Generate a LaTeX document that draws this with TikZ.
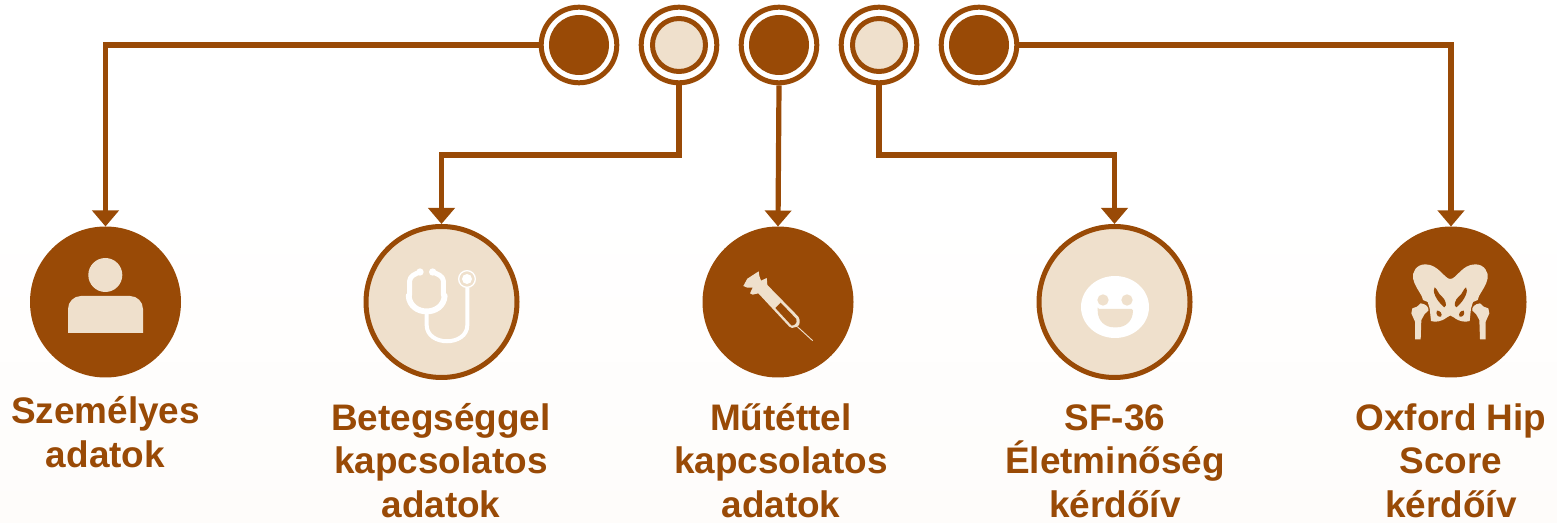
\documentclass[tikz,border=0pt]{standalone}
\usepackage{fontspec}
\setmainfont{Liberation Sans}
\usetikzlibrary{arrows.meta}
\definecolor{brn}{HTML}{994A06}
\definecolor{bge}{HTML}{EFE0CC}
\definecolor{bgbot}{HTML}{FEFCFA}
\tikzset{
  x=.75pt,y=-.75pt,
  topring/.style={circle,draw=brn,fill=white,line width=3.75pt,minimum size=56.7pt,inner sep=0pt,outer sep=.5\pgflinewidth},
  topdark/.style={circle,fill=brn,minimum size=45pt,inner sep=0pt,outer sep=0pt},
  toplight/.style={circle,draw=brn,fill=bge,line width=3.75pt,minimum size=39.75pt,inner sep=0pt},
  bigdark/.style={circle,fill=brn,minimum size=113.25pt,inner sep=0pt,outer sep=0pt},
  biglight/.style={circle,draw=brn,fill=bge,line width=3.75pt,minimum size=113.25pt,inner sep=0pt,outer sep=.5\pgflinewidth},
  conn/.style={draw=brn,line width=3.9pt,-{Triangle[width=19.5pt,length=12pt]}},
  stub/.style={draw=brn,line width=3.9pt},
  lbl/.style={font=\fontsize{27.7}{33}\selectfont\bfseries,text=brn,align=center,anchor=base,inner sep=0pt},
  zoomed/.style={shift={#1},x=.25pt,y=-.25pt},
}
\begin{document}
\begin{tikzpicture}
\useasboundingbox (0,0) rectangle (1557,523);
\shade[top color=white,bottom color=bgbot] (0,200) rectangle (1557,523);
% top circles
\node[topring] (t1) at (579,45) {};
\node[topring] (t2) at (679,45) {};
\node[topring] (t3) at (779,45) {};
\node[topring] (t4) at (879,45) {};
\node[topring] (t5) at (979,45) {};
\node[topdark] (d1) at (t1) {};
\node[toplight] (l2) at (t2) {};
\node[topdark] (d3) at (t3) {};
\node[toplight] (l4) at (t4) {};
\node[topdark] (d5) at (t5) {};
% large circles
\node[bigdark] (c1) at (105.5,302) {};
\node[biglight] (c2) at (441.5,302) {};
\node[bigdark] (c3) at (778,302) {};
\node[biglight] (c4) at (1114.5,302) {};
\node[bigdark] (c5) at (1451,302) {};
% connectors
\coordinate (k2) at (441.5,155);
\coordinate (k4) at (1114.5,155);
\draw[conn] (t1.west) -| (c1.north);
\draw[stub] (t2.south) |- ([xshift=-1.95pt]k2);
\draw[conn] (k2) -- (c2.north);
\draw[conn] (t3.south) -- (c3.north);
\draw[stub] (t4.south) |- ([xshift=1.95pt]k4);
\draw[conn] (k4) -- (c4.north);
\draw[conn] (t5.east) -| (c5.north);
% person
\fill[bge] (105.3,275) circle (17);
\fill[bge] (68,333) -- (68,309) arc[start angle=180,end angle=270,radius=13] -- (130,296) arc[start angle=270,end angle=360,radius=13] -- (143,333) -- cycle;
% stethoscope
\begin{scope}[zoomed={(350,200)}]
\draw[white,line width=3.7pt,line cap=round,line join=round] (210,216) .. controls (195,222) and (180,228) .. (179,242) -- (179,285);
\draw[white,line width=3.7pt,line cap=round,line join=round] (248,216) .. controls (262,222) and (279,228) .. (280,242) -- (280,285);
\draw[white,line width=4.4pt,line cap=round] (176,287) .. controls (180,350) and (280,350) .. (284,287);
\fill[white] (210,216) circle (11);
\fill[white] (248,216) circle (11);
\draw[white,line width=3pt] (230,335) -- (230,375) .. controls (230,440) and (352,440) .. (352,375) -- (352,262);
\draw[white,line width=1pt] (351,237) circle (25);
\fill[white] (351,237) circle (15);
\end{scope}
% syringe
\begin{scope}[zoomed={(690,210)}]
\fill[bge] (160,228) -- (172,206) -- (206,184) -- (208,198) -- (213,212) -- (230,204) -- (231,212) -- (232,225) -- (325,320) .. controls (332,332) and (330,345) .. (322,350) -- (306,354) -- (298,350) -- (205,250) -- (188,254) -- (180,250) -- (188,233) -- (172,233) -- cycle;
\fill[brn] (256,294) -- (272,278) -- (319,327) .. controls (321,338) and (318,342) .. (312,345) -- (305,347) -- cycle;
\draw[bge,line width=.7pt] (322,350) -- (368,392);
\end{scope}
% smile
\begin{scope}[zoomed={(1030,210)}]
\fill[white] (255,291) ellipse [x radius=102,y radius=93];
\fill[bge] (219,270) circle (17);
\fill[bge] (291,270) circle (17);
\fill[bge,rounded corners=1pt] (203,297) -- (309,297) .. controls (309,335) and (285,352) .. (256,352) .. controls (227,352) and (203,335) .. (203,297) -- cycle;
\end{scope}
% pelvis
\begin{scope}[zoomed={(1360,210)}]
\foreach \s in {1,-1}{
\begin{scope}[shift={(271,0)},xscale=\s]
\fill[bge] (-1,207) -- (0,207) .. controls (18,207) and (35,163) .. (75,163) .. controls (103,163) and (115,188) .. (112,205) .. controls (108,225) and (96,240) .. (86,258) -- (82,270) -- (68,276) -- (62,295) -- (58,333) .. controls (45,337) and (28,336) .. (10,322) -- (-1,316) -- cycle;
\fill[brn] (47,232) .. controls (55,240) and (45,270) .. (18,292) .. controls (8,288) and (15,268) .. (25,260) .. controls (38,250) and (38,238) .. (47,232) -- cycle;
\fill[brn] (40,302) .. controls (32,300) and (22,312) .. (28,320) .. controls (38,322) and (45,312) .. (40,302) -- cycle;
\fill[bge] (106,388) -- (89,388) -- (87,330) -- (77,312) -- (66,302) .. controls (64,292) and (72,282) .. (89,280) -- (100,290) -- (114,295) -- (117,310) -- (106,335) -- cycle;
\end{scope}
}
\end{scope}
% labels
\node[lbl] (s1) at (105.5,467.5) {Személyes\\adatok};
\node[lbl] (s2) at (441,518) {Betegséggel\\kapcsolatos\\adatok};
\node[lbl] (s3) at (781,518) {Műtéttel\\kapcsolatos\\adatok};
\node[lbl] (s4) at (1115,518) {SF-36\\Életminőség\\kérdőív};
\node[lbl] (s5) at (1451,518) {Oxford Hip\\Score\\kérdőív};
\end{tikzpicture}
\end{document}
